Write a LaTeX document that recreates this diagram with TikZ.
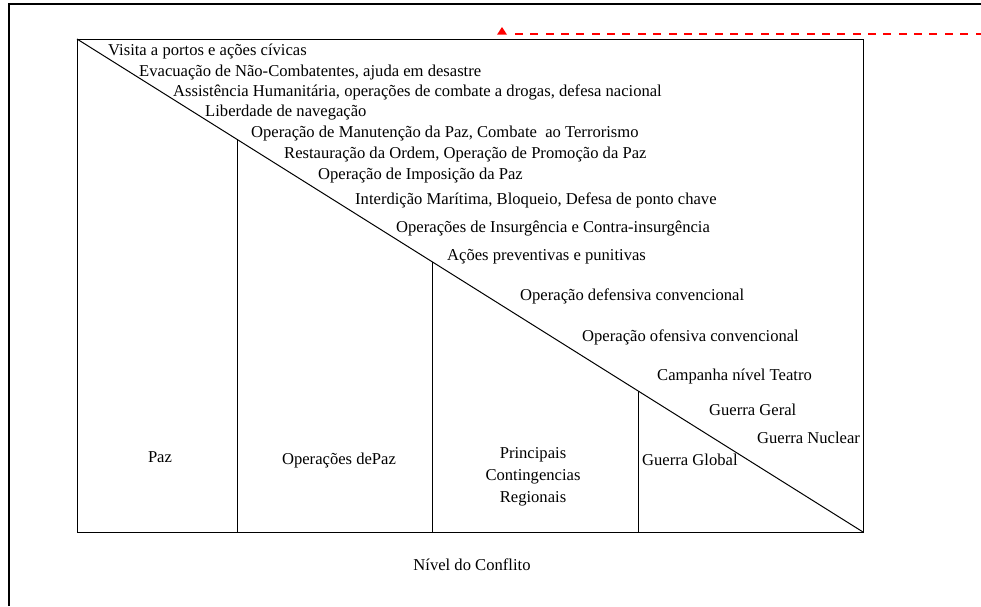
\documentclass[tikz,border=0pt]{standalone}
\usepackage{fontspec}
\setmainfont{Liberation Serif}
\newfontfamily\tnr{Liberation Serif}
\definecolor{redline}{RGB}{255,0,0}
\begin{document}
\begin{tikzpicture}[x=1pt,y=-1pt,
  lbl/.style={anchor=base west,inner sep=0pt,font=\tnr\fontsize{16.6}{22}\selectfont},
  clbl/.style={anchor=base,inner sep=0pt,font=\tnr\fontsize{16.6}{22}\selectfont,align=center},
  frame/.style={draw=black,line width=1pt},
  border/.style={draw=black,line width=2pt},
  reddash/.style={fill=redline}]
\useasboundingbox (0,0) rectangle (981,606);
% outer border lines
\draw[border] (9,606) -- (9,4) -- (981,4);
% red dashed line with triangle
\foreach \i in {0,...,30} {
  \fill[reddash] ({515+15.35*\i},33.2) rectangle ({min(523+15.35*\i,981)},34.8);
}
\fill[redline] (497,34.7) -- (502,27) -- (507,34.7) -- cycle;
% main frame
\coordinate (tl) at (77,39);
\coordinate (tr) at (863,39);
\coordinate (bl) at (77,532);
\coordinate (br) at (863,532);
\draw[frame] (tl) -- (tr) -- (br) -- (bl) -- cycle;
\draw[frame] (tl) -- (br);
% dividers
\coordinate (d1t) at (237,139.3);
\coordinate (d1b) at (237,532);
\coordinate (d2t) at (432.7,261.8);
\coordinate (d2b) at (432.7,532);
\coordinate (d3t) at (638,390.9);
\coordinate (d3b) at (638,532);
\draw[frame] (d1t) -- (d1b);
\draw[frame] (d2t) -- (d2b);
\draw[frame] (d3t) -- (d3b);
% labels above diagonal
\node[lbl] (t1) at (108,55.5) {Visita a portos e ações cívicas};
\node[lbl] (t2) at (139,76.5) {Evacuação de Não-Combatentes, ajuda em desastre};
\node[lbl] (t3) at (173,96.5) {Assistência Humanitária, operações de combate a drogas, defesa nacional};
\node[lbl] (t4) at (205,116.5) {Liberdade de navegação};
\node[lbl] (t5) at (251,137.5) {Operação de Manutenção da Paz, Combate~\ ao Terrorismo};
\node[lbl] (t6) at (284,158.5) {Restauração da Ordem, Operação de Promoção da Paz};
\node[lbl] (t7) at (318,179.5) {Operação de Imposição da Paz};
\node[lbl] (t8) at (355,204.5) {Interdição Marítima, Bloqueio, Defesa de ponto chave};
\node[lbl] (t9) at (396,232.5) {Operações de Insurgência e Contra-insurgência};
\node[lbl] (t10) at (447,260.5) {Ações preventivas e punitivas};
\node[lbl] (t11) at (520,300.5) {Operação defensiva convencional};
\node[lbl] (t12) at (582,341.5) {Operação ofensiva convencional};
\node[lbl] (t13) at (657,380.5) {Campanha nível Teatro};
\node[lbl] (t14) at (709,415.5) {Guerra Geral};
\node[lbl] (t15) at (757,443.5) {Guerra Nuclear};
\node[lbl] (t16) at (642,465.5) {Guerra Global};
% column labels
\node[clbl] (c1) at (160,462.5) {Paz};
\node[clbl] (c2) at (339,464.5) {Operações dePaz};
\node[clbl] (c3a) at (533,458.5) {Principais};
\node[clbl] (c3b) at (533,480.5) {Contingencias};
\node[clbl] (c3c) at (533,502.5) {Regionais};
\node[clbl] (axis) at (472,570.5) {Nível do Conflito};
\end{tikzpicture}
\end{document}
